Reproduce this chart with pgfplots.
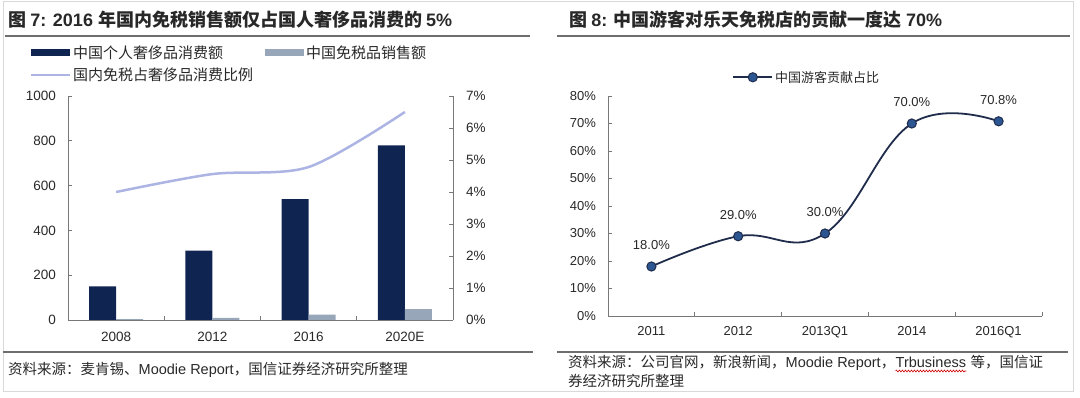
\documentclass[border=0pt]{standalone}
\usepackage{fontspec}
\setmainfont{Liberation Sans}
\newfontfamily\cjk{Noto Sans CJK SC}
\usepackage{pgfplots}
\pgfplotsset{compat=1.18}
\usetikzlibrary{decorations.pathmorphing}
\definecolor{navy}{RGB}{16,36,82}
\definecolor{lightbar}{RGB}{152,166,186}
\definecolor{lav}{RGB}{172,180,228}
\definecolor{linec}{RGB}{32,44,76}
\definecolor{markf}{RGB}{44,86,146}
\definecolor{axc}{RGB}{120,120,120}
\definecolor{rulec}{RGB}{110,110,110}
\definecolor{txt}{RGB}{40,40,40}
\pgfplotsset{/pgf/number format/assume math mode=true}
\begin{document}
\begin{tikzpicture}
\draw[black!15, line width=1pt] (3pt,396pt) rectangle (1073pt,6pt);
% titles
\node[anchor=west, inner sep=0, txt] at (8pt,378pt) {\fontsize{18}{21}\selectfont\bfseries{\cjk 图 }7: 2016 {\cjk 年国内免税销售额仅占国人奢侈品消费的 }5\%};
\node[anchor=west, inner sep=0, txt] at (569pt,378pt) {\fontsize{18}{21}\selectfont\bfseries{\cjk 图 }8: {\cjk 中国游客对乐天免税店的贡献一度达 }70\%};
\draw[rulec, line width=1.6pt] (5pt,362pt) -- (530pt,362pt);
\draw[rulec, line width=1.6pt] (557pt,362pt) -- (1070pt,362pt);
\draw[rulec, line width=1.6pt] (3pt,46pt) -- (533pt,46pt);
\draw[rulec, line width=1.6pt] (557pt,46pt) -- (1068pt,46pt);
% sources
\node[anchor=west, inner sep=0, txt] at (8pt,28pt) {\fontsize{14.5}{17}\selectfont{\cjk 资料来源：麦肯锡、}Moodie Report{\cjk ，国信证券经济研究所整理}};
\node[anchor=base west, inner sep=0, txt] (sa) at (568pt,30pt) {\fontsize{14.5}{17}\selectfont{\cjk 资料来源：公司官网，新浪新闻，}Moodie Report{\cjk ，}};
\node[anchor=base west, inner sep=0, txt] (sb) at (sa.base east) {\fontsize{14.5}{17}\selectfont Trbusiness};
\node[anchor=base west, inner sep=0, txt] (sc) at (sb.base east) {\fontsize{14.5}{17}\selectfont\ {\cjk 等，国信证}};
\draw[red!80!black, line width=0.6pt, decorate, decoration={snake, amplitude=0.9pt, segment length=3pt}] ([yshift=-3pt]sb.base west) -- ([yshift=-3pt]sb.base east);
\node[anchor=base west, inner sep=0, txt] at (568pt,11pt) {\fontsize{14.5}{17}\selectfont{\cjk 券经济研究所整理}};

% left chart: bars
\begin{axis}[at={(68pt,78pt)}, anchor=south west, scale only axis, width=385pt, height=224pt,
  xmin=-0.5, xmax=3.5, ymin=0, ymax=1000,
  axis x line*=bottom, axis y line*=left,
  axis line style={axc, line width=0.8pt, -},
  tick style={axc, line width=0.8pt}, tick align=inside, major tick length=4pt,
  xtick={0.5,1.5,2.5,3.5}, xticklabels={},
  extra x ticks={0,1,2,3}, extra x tick labels={2008,2012,2016,2020E},
  extra x tick style={major tick length=0pt, tick label style={yshift=-8.5pt}},
  ytick={0,200,...,1000},
  yticklabel style={xshift=-8.5pt, /pgf/number format/1000 sep={}},
  ticklabel style={font=\fontsize{13.5}{16}\selectfont, text=txt},
  legend style={at={(rel axis cs:-0.1,1.235)}, anchor=north west, draw=none, fill=none,
    font=\cjk\fontsize{15}{17}\selectfont, text=txt, inner sep=0pt,
    /tikz/every even column/.append style={column sep=10pt}, row sep=4pt},
  legend columns=2, legend cell align=left,
]
\addplot[ybar, fill=navy, draw=none, bar width=0.28, bar shift=-0.14,
  legend image code/.code={\fill[navy] (0pt,-3.5pt) rectangle (39pt,3.5pt);}]
  coordinates {(0,150) (1,310) (2,540) (3,780)};
\addlegendentry{中国个人奢侈品消费额}
\addplot[ybar, fill=lightbar, draw=none, bar width=0.28, bar shift=0.14,
  legend image code/.code={\fill[lightbar] (0pt,-3.5pt) rectangle (39pt,3.5pt);}]
  coordinates {(0,4) (1,10) (2,24) (3,48)};
\addlegendentry{中国免税品销售额}
\addlegendimage{lav, line width=2.5pt, legend image code/.code={\draw[lav, line width=2.5pt] (0pt,0pt) -- (39pt,0pt);}}
\addlegendentry{国内免税占奢侈品消费比例}
\end{axis}
% left chart: share line
\begin{axis}[at={(68pt,78pt)}, anchor=south west, scale only axis, width=385pt, height=224pt,
  xmin=-0.5, xmax=3.5, ymin=0, ymax=7,
  axis x line=none, axis y line*=right,
  axis line style={axc, line width=0.8pt, -},
  tick style={axc, line width=0.8pt}, tick align=inside, major tick length=4pt,
  ytick={0,1,...,7}, yticklabels={0\%,1\%,2\%,3\%,4\%,5\%,6\%,7\%},
  yticklabel style={xshift=9.5pt},
  ticklabel style={font=\fontsize{13.5}{16}\selectfont, text=txt},
]
\addplot[lav, line width=2.5pt, smooth, tension=0.5] coordinates {(0,4.0) (1,4.56) (2,4.78) (3,6.5)};
\end{axis}

% right chart
\begin{axis}[at={(608pt,82pt)}, anchor=south west, scale only axis, width=434pt, height=220pt,
  xmin=-0.5, xmax=4.5, ymin=0, ymax=80,
  axis x line*=bottom, axis y line*=left,
  axis line style={axc, line width=0.8pt, -},
  tick style={axc, line width=0.8pt}, tick align=inside, major tick length=4pt,
  xtick={0.5,1.5,2.5,3.5,4.5}, xticklabels={},
  extra x ticks={0,1,2,3,4}, extra x tick labels={2011,2012,2013Q1,2014,2016Q1},
  extra x tick style={major tick length=0pt, tick label style={yshift=-6.5pt}},
  ytick={0,10,...,80}, yticklabel={\pgfmathprintnumber{\tick}\%},
  yticklabel style={xshift=-8.5pt},
  ticklabel style={font=\fontsize{13}{15}\selectfont, text=txt},
  legend style={at={(rel axis cs:0.458,1.085)}, anchor=center, draw=none, fill=none,
    font=\cjk\fontsize{13}{15}\selectfont, text=txt, inner sep=0pt},
  legend image code/.code={\draw[#1, mark repeat=2, mark phase=2] plot coordinates {(0pt,0pt) (19.5pt,0pt) (39pt,0pt)};},
]
\addplot[linec, line width=1.8pt, smooth, tension=0.7, mark=*, mark size=4.6pt,
  mark options={fill=markf, draw=linec, line width=1pt},
  point meta=y,
  nodes near coords={\pgfmathprintnumber[fixed,fixed zerofill,precision=1]{\pgfplotspointmeta}\%},
  nodes near coords style={anchor=center, yshift=21.5pt, font=\fontsize{13}{15}\selectfont, text=txt}]
  coordinates {(0,18) (1,29) (2,30) (3,70) (4,70.8)};
\addlegendentry{中国游客贡献占比}
\end{axis}
\pgfresetboundingbox
\path[use as bounding box] (0pt,0pt) rectangle (1080pt,398pt);
\end{tikzpicture}
\end{document}
